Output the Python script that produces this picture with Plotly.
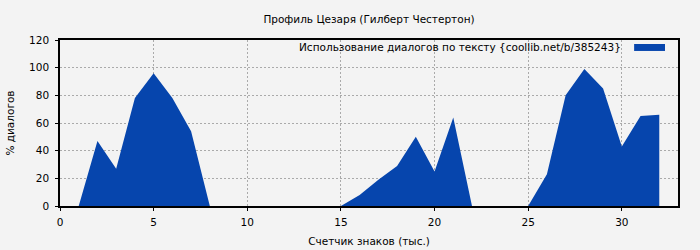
import plotly.graph_objects as go

x_thousands = list(range(0, 33))
dialog_pct = [0, 0, 47, 27, 78, 96, 78, 54, 0, 0, 0, 0, 0, 0, 0, 0,
              8, 19, 29, 50, 25, 64, 0, 0, 0, 0, 23, 80, 99, 85, 43, 65, 66]
series_name = "Использование диалогов по тексту {coollib.net/b/385243}"
title_text = "Профиль Цезаря (Гилберт Честертон)"
x_title = "Счетчик знаков (тыс.)"
y_title = "% диалогов"

color = "#0645AD"
font = dict(family="DejaVu Sans", size=10.5, color="#000")

fig = go.Figure()
fig.add_trace(go.Scatter(x=x_thousands, y=dialog_pct, mode="lines", fill="tozeroy",
                         line=dict(color=color, width=0), fillcolor=color,
                         name=series_name, showlegend=False))

axis_common = dict(showline=True, linecolor="black", linewidth=1.5, mirror=True,
                   ticks="outside", ticklen=3, tickcolor="black",
                   showgrid=True, gridcolor="#aaa", griddash="2px,2px", gridwidth=1,
                   zeroline=False, tickfont=font, automargin=False)

fig.update_layout(
    width=700, height=250,
    margin=dict(l=60, r=22, t=40, b=44),
    paper_bgcolor="#f3f3f3", plot_bgcolor="#f3f3f3",
    font=font,
    title=dict(text=title_text, x=0.5, xref="paper", y=1 - 19 / 250, yanchor="middle",
               font=font),
    xaxis=dict(range=[0, 33], dtick=5, tick0=0, ticklabelstandoff=3,
               title=dict(text=x_title, standoff=10, font=font), **axis_common),
    yaxis=dict(range=[0, 120], dtick=20, tick0=0, ticklabelstandoff=4,
               title=dict(text=y_title, standoff=12, font=font), **axis_common),
    annotations=[dict(text=series_name, xref="paper", yref="paper", x=0.911, y=0.958,
                      xanchor="right", yanchor="middle", showarrow=False, font=font)],
    shapes=[dict(type="rect", xref="paper", yref="paper", x0=0.929, x1=0.979,
                 y0=0.934, y1=0.976, fillcolor=color, line=dict(width=0))],
)

fig.write_html("out.html")
